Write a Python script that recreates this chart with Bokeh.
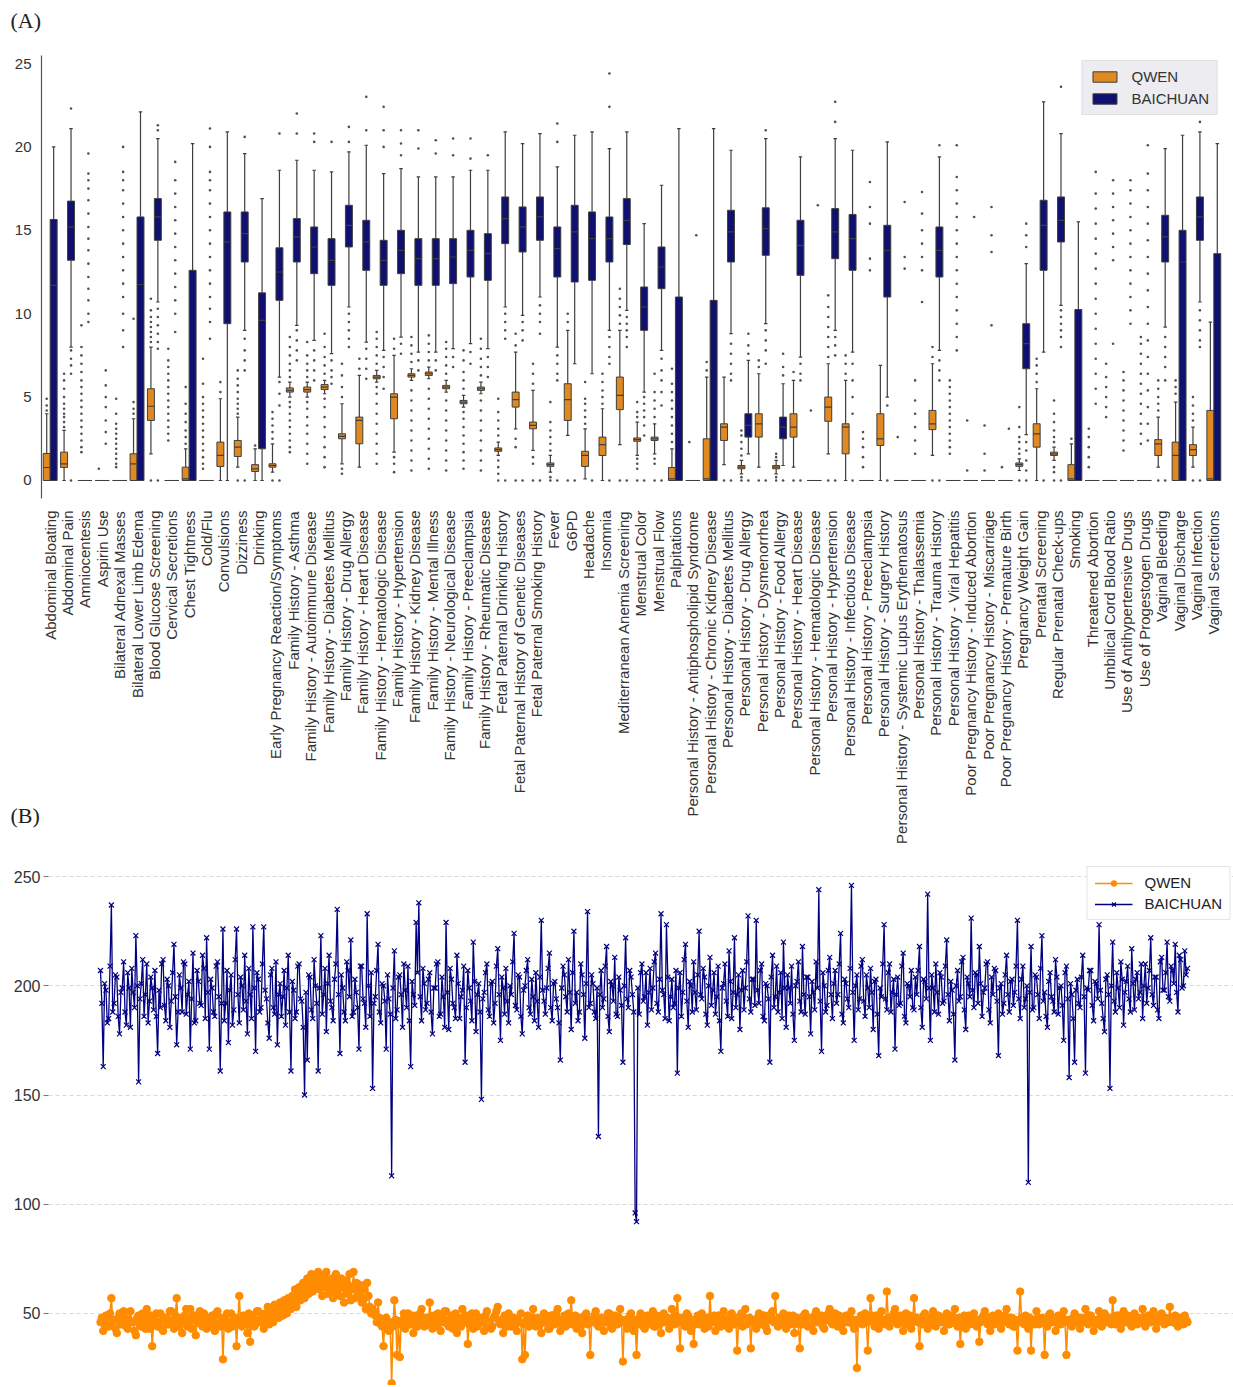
import math
from bokeh.plotting import figure
from bokeh.models import ColumnDataSource, FixedTicker, Legend, LegendItem, Range1d
from bokeh.layouts import column, row
from bokeh.embed import file_html
from bokeh.resources import INLINE

categories = [
    "Abdominal Bloating", "Abdominal Pain", "Amniocentesis", "Aspirin Use",
    "Bilateral Adnexal Masses", "Bilateral Lower Limb Edema", "Blood Glucose Screening",
    "Cervical Secretions", "Chest Tightness", "Cold/Flu", "Convulsions", "Dizziness",
    "Drinking", "Early Pregnancy Reaction/Symptoms", "Family History - Asthma",
    "Family History - Autoimmune Disease", "Family History - Diabetes Mellitus",
    "Family History - Drug Allergy", "Family History - Heart Disease",
    "Family History - Hematologic Disease", "Family History - Hypertension",
    "Family History - Kidney Disease", "Family History - Mental Illness",
    "Family History - Neurological Disease", "Family History - Preeclampsia",
    "Family History - Rheumatic Disease", "Fetal Paternal Drinking History",
    "Fetal Paternal History of Genetic Diseases", "Fetal Paternal Smoking History",
    "Fever", "G6PD", "Headache", "Insomnia", "Mediterranean Anemia Screening",
    "Menstrual Color", "Menstrual Flow", "Palpitations",
    "Personal History - Antiphospholipid Syndrome", "Personal History - Chronic Kidney Disease",
    "Personal History - Diabetes Mellitus", "Personal History - Drug Allergy",
    "Personal History - Dysmenorrhea", "Personal History - Food Allergy",
    "Personal History - Heart Disease", "Personal History - Hematologic Disease",
    "Personal History - Hypertension", "Personal History - Infectious Disease",
    "Personal History - Preeclampsia", "Personal History - Surgery History",
    "Personal History - Systemic Lupus Erythematosus", "Personal History - Thalassemia",
    "Personal History - Trauma History", "Personal History - Viral Hepatitis",
    "Poor Pregnancy History - Induced Abortion", "Poor Pregnancy History - Miscarriage",
    "Poor Pregnancy History - Premature Birth", "Pregnancy Weight Gain",
    "Prenatal Screening", "Regular Prenatal Check-ups", "Smoking", "Threatened Abortion",
    "Umbilical Cord Blood Ratio", "Use of Antihypertensive Drugs", "Use of Progestogen Drugs",
    "Vaginal Bleeding", "Vaginal Discharge", "Vaginal Infection", "Vaginal Secretions",
]

# ---- QWEN box statistics (panel A) ----
qwen_q1 = [0, 0.78, 0, 0, 0, 0, 3.6, 0, 0, 0, 0.84, 1.44, 0.54, 0.8, 5.3, 5.3, 5.45, 2.5, 2.2, 6.1,
           3.7, 6.2, 6.3, 5.5, 4.6, 5.4, 1.75, 4.4, 3.1, 0.85, 3.6, 0.84, 1.5, 4.25, 2.35, 2.4, 0, 0,
           0, 2.4, 0.7, 2.6, 0.7, 2.6, 0, 3.55, 1.6, 0, 2.1, 0, 0, 3.05, 0, 0, 0, 0, 0.85, 2.0, 1.5,
           0, 0, 0, 0, 0, 1.5, 0, 1.5, 0]
qwen_med = [0.78, 1.0, 0, 0, 0, 1.0, 4.45, 0, 0.1, 0, 1.5, 2.0, 0.7, 0.9, 5.4, 5.45, 5.6, 2.65, 3.6,
            6.2, 5.0, 6.3, 6.4, 5.6, 4.7, 5.5, 1.85, 4.85, 3.3, 0.95, 4.85, 1.5, 2.15, 5.1, 2.45,
            2.5, 0.1, 0, 0.1, 3.2, 0.8, 3.4, 0.8, 3.2, 0, 4.4, 3.2, 0, 2.5, 0, 0, 3.4, 0, 0, 0, 0,
            0.95, 2.8, 1.6, 0.1, 0, 0, 0, 0, 2.2, 1.5, 1.85, 0.1]
qwen_q3 = [1.62, 1.7, 0, 0, 0, 1.6, 5.5, 0, 0.8, 0, 2.3, 2.4, 0.95, 1.0, 5.55, 5.6, 5.75, 2.8, 3.8,
           6.3, 5.2, 6.4, 6.5, 5.7, 4.8, 5.6, 1.95, 5.3, 3.5, 1.05, 5.8, 1.75, 2.6, 6.2, 2.55, 2.6,
           0.78, 0, 2.5, 3.4, 0.9, 4.0, 0.9, 4.0, 0, 5.0, 3.4, 0, 4.0, 0, 0, 4.2, 0, 0, 0, 0, 1.05,
           3.4, 1.7, 0.95, 0, 0, 0, 0, 2.45, 2.3, 2.15, 4.2]
qwen_lo = [0, 0, 0, 0, 0, 0, 1.6, 0, 0, 0, 0, 0.8, 0, 0.5, 5.0, 5.0, 5.2, 1.0, 0.8, 5.9, 1.7, 6.0,
           6.1, 5.3, 4.4, 5.2, 1.5, 3.1, 1.8, 0.5, 2.7, 0.1, 0, 2.15, 1.5, 1.6, 0, 0, 0, 0.95, 0.4,
           0.8, 0.4, 0.8, 0, 1.6, 0, 0, 0, 0, 0, 1.5, 0, 0, 0, 0, 0.6, 0, 1.2, 0, 0, 0, 0, 0, 0.8,
           0, 0.8, 0]
qwen_hi = [4.0, 3.0, 0, 0, 0, 3.7, 8.0, 0, 1.9, 0, 4.9, 3.8, 1.9, 2.2, 5.9, 5.9, 6.0, 4.6, 6.3, 6.6,
           7.5, 6.7, 6.8, 6.0, 5.1, 5.9, 2.3, 7.7, 5.4, 1.5, 9.0, 3.1, 4.3, 9.0, 3.5, 3.4, 1.9, 0,
           6.2, 6.2, 1.2, 6.4, 1.2, 6.0, 0, 7.0, 6.0, 0, 6.9, 0, 0, 7.0, 0, 0, 0, 0, 1.3, 5.5, 2.0,
           2.2, 0, 0, 0, 0, 3.8, 4.7, 3.2, 9.5]
qwen_outliers = [
    [4.2, 4.5, 4.9], [3.2, 3.5, 3.8, 4.0, 4.3, 4.6, 5.0, 5.5, 6.0, 6.4],
    [1.7, 2.0, 2.4, 2.8, 3.2, 3.6, 4.0, 4.4, 4.8, 5.2, 5.6, 6.0, 6.5, 7.0, 7.5, 8.0, 9.3],
    [0.7], [0.8, 1.0, 1.3, 1.6, 1.9, 2.2, 2.5, 2.8, 3.1, 3.4, 4.0, 4.9], [4.0, 4.3, 4.7, 9.7],
    [8.3, 8.6, 8.9, 9.2, 9.5, 9.8, 10.2, 10.9, 0],
    [2.4, 2.8, 3.2, 3.6, 4.0, 4.4, 4.8, 5.2, 5.6, 6.0, 6.4, 6.8, 7.2, 7.9],
    [2.2, 2.6, 3.0, 3.5, 4.0, 4.6, 5.6],
    [0.7, 1.0, 1.4, 1.8, 2.2, 2.6, 3.0, 3.4, 3.8, 4.2, 4.6, 5.0, 5.8, 7.3],
    [5.3, 5.9], [4.0, 4.3, 4.6, 4.9, 5.3, 5.7, 6.1, 6.6, 0], [2.1], [2.5, 2.9, 3.3, 3.7, 4.1, 0],
    [1.7, 2.0, 2.4, 2.8, 3.2, 3.6, 4.0, 4.4, 4.7, 6.2, 6.6, 7.0, 7.5, 8.0, 8.6],
    [1.0, 1.6, 2.2, 2.8, 3.3, 3.8, 4.3, 4.7, 6.2, 6.6, 7.0, 7.5, 8.3],
    [0.8, 1.4, 2.0, 2.6, 3.2, 3.8, 4.4, 4.9, 6.4, 6.9, 7.4, 8.0, 8.8],
    [0.4, 0.7, 5.0, 5.6, 6.3, 7.0], [6.7, 7.3],
    [1.0, 1.6, 2.2, 2.8, 3.4, 4.0, 4.6, 5.2, 5.6, 7.0, 7.5, 8.0, 8.5, 8.9],
    [0.5, 1.0, 1.4, 7.9, 8.5],
    [0.6, 1.2, 1.8, 2.4, 3.0, 3.6, 4.2, 4.8, 5.4, 7.1, 7.6, 8.1, 8.6],
    [0.7, 1.3, 1.9, 2.5, 3.1, 3.7, 4.3, 4.9, 5.5, 7.2, 7.7, 8.2, 8.7],
    [0.6, 1.2, 1.8, 2.4, 3.0, 3.6, 4.2, 4.8, 6.4, 6.9, 7.4, 7.9, 8.3],
    [0.7, 1.2, 1.7, 2.2, 2.7, 3.2, 3.7, 4.1, 5.5, 6.0, 6.5, 7.2, 7.8],
    [0.6, 1.2, 1.8, 2.4, 3.0, 3.6, 4.2, 4.8, 6.3, 6.8, 7.3, 7.9, 8.5],
    [0, 0.4, 0.8, 1.2, 2.7, 3.1, 3.6, 4.1, 4.9], [0, 2.0, 2.5, 8.1, 8.8], [0, 1.0, 1.4, 5.8, 6.4, 7.0],
    [0, 0.2, 1.8, 2.2, 2.6, 3.0, 3.5, 4.7], [0, 9.5, 10.0], [3.4, 3.8, 4.2, 4.6, 4.9, 5.9],
    [4.6, 5.0, 5.4, 5.9, 6.4], [0, 9.4, 9.9, 10.4, 10.9, 11.5], [0, 0.7, 1.0, 1.3, 3.8, 4.1, 4.7],
    [0, 1.0, 1.3, 3.8, 4.3, 4.8, 5.3, 6.4], [2.3, 2.8, 3.3, 3.8, 4.3, 4.8, 5.3, 5.8, 6.7], [2.3],
    [6.6, 7.1], [0], [0, 0.2, 1.5, 1.9, 2.3, 2.7, 3.0], [0, 6.8, 7.2], [0, 0.2, 1.4, 1.6], [0, 6.5],
    [4.2], [0, 7.4, 8.0, 8.6, 9.2, 9.8, 10.4, 11.1], [6.4, 7.0, 7.5], [0.8, 1.4, 2.0, 2.5, 2.9], [],
    [2.6], [1.6, 2.4, 3.2, 4.0, 4.8, 6.0], [0, 7.4, 8.0],
    [1.6, 2.0, 2.4, 2.8, 3.2, 3.6, 4.0, 4.4, 4.8, 5.2, 5.6, 6.0], [0.6, 3.6], [0.6, 1.6, 3.3], [0.8],
    [0, 1.6, 1.9, 2.3, 2.6, 3.2, 4.4], [5.9, 6.4, 6.9, 7.3], [0, 0.5, 0.8, 2.3, 2.6, 3.0, 3.5, 4.0, 4.8],
    [2.5], [0.8, 1.4, 2.0, 2.6, 3.1], [3.8, 4.4, 5.0, 5.6, 6.2, 7.0],
    [1.8, 2.4, 3.0, 3.6, 4.2, 4.8, 5.4, 6.0, 6.5],
    [2.2, 2.8, 3.4, 4.0, 4.6, 5.2, 5.8, 6.4, 7.0, 7.6, 8.2, 8.6], [0, 4.2, 4.6, 5.0, 5.5, 6.0],
    [5.2, 5.6, 6.0], [0, 3.6, 4.0, 4.5, 5.0], [],
]

# ---- BAICHUAN box statistics (panel A) ----
bc_q1 = [0, 13.2, 0, 0, 0, 0, 14.4, 0, 0, 0, 9.4, 13.1, 1.9, 10.8, 13.1, 12.4, 11.7, 14.0, 12.6,
         11.7, 12.4, 11.7, 11.7, 11.8, 12.2, 12.0, 14.2, 13.7, 14.4, 12.2, 11.9, 12.0, 13.1, 14.15,
         9.0, 11.5, 0, 0, 0, 13.1, 2.6, 13.5, 2.5, 12.3, 0, 13.3, 12.6, 0, 11.0, 0, 0, 12.2, 0, 0,
         0, 0, 6.7, 12.6, 14.3, 0, 0, 0, 0, 0, 13.1, 0, 14.4, 0]
bc_med = [11.7, 15.2, 0, 0, 0, 11.75, 15.8, 0, 0, 0, 14.3, 14.8, 9.6, 12.5, 14.6, 14.0, 13.2, 15.3,
          14.3, 13.2, 13.8, 13.3, 13.3, 13.4, 13.8, 13.6, 15.7, 15.2, 15.8, 13.9, 14.9, 14.5, 14.5,
          15.6, 10.4, 12.8, 0, 0, 0, 14.9, 3.3, 15.1, 3.2, 14.1, 0, 14.9, 14.5, 0, 13.8, 0, 0, 13.8,
          0, 0, 0, 0, 8.2, 15.3, 15.6, 0, 0, 0, 0, 0, 14.6, 13.1, 15.8, 0]
bc_q3 = [15.65, 16.75, 0, 0, 0, 15.8, 16.9, 0, 12.6, 0, 16.1, 16.1, 11.25, 13.95, 15.7, 15.2, 14.5,
         16.5, 15.6, 14.4, 15.0, 14.5, 14.5, 14.5, 15.0, 14.8, 17.0, 16.4, 17.0, 15.2, 16.5, 16.1,
         15.8, 16.9, 11.6, 14.0, 11.0, 0, 10.8, 16.2, 4.0, 16.35, 3.8, 15.6, 0, 16.3, 15.95, 0, 15.3,
         0, 0, 15.2, 0, 0, 0, 0, 9.4, 16.8, 17.0, 10.25, 0, 0, 0, 0, 15.9, 15.0, 17.0, 13.6]
bc_lo = [0, 8.0, 0, 0, 0, 0, 10.7, 0, 0, 0, 0, 9.0, 0, 6.2, 9.3, 8.4, 7.6, 10.4, 8.3, 7.8, 8.6, 7.7,
         7.7, 7.9, 8.2, 7.9, 10.4, 9.9, 11.0, 8.0, 7.0, 6.4, 9.0, 10.2, 5.3, 7.8, 0, 0, 0, 8.8, 1.6,
         9.4, 0.9, 7.4, 0, 9.0, 7.7, 0, 5.0, 0, 0, 7.8, 0, 0, 0, 0, 2.75, 7.7, 10.5, 0, 0, 0, 0, 0,
         9.2, 0, 10.7, 0]
bc_hi = [20.0, 21.1, 0, 0, 0, 22.1, 20.5, 0, 20.2, 0, 20.9, 19.6, 16.9, 18.6, 19.2, 18.6, 18.5, 19.7,
         20.1, 18.4, 18.7, 18.2, 18.2, 18.2, 18.6, 18.6, 20.9, 20.2, 20.8, 18.8, 20.7, 20.9, 19.9,
         20.9, 15.4, 17.7, 21.1, 0, 21.1, 19.8, 7.2, 20.5, 5.8, 19.4, 0, 20.5, 19.8, 0, 20.3, 0, 0,
         19.4, 0, 0, 0, 0, 13.0, 22.7, 20.8, 15.5, 0, 0, 0, 0, 19.9, 20.7, 20.9, 20.2]
bc_outliers = [
    [], [0, 6.4, 6.9, 7.3, 7.8, 22.3],
    [9.5, 10.0, 10.8, 11.5, 12.2, 13.0, 13.8, 14.5, 15.2, 16.0, 16.8, 17.5, 18.0, 18.4, 19.6],
    [2.2, 2.9, 3.6, 4.4, 5.0, 5.7, 6.6],
    [8.0, 9.0, 10.0, 11.0, 11.8, 12.6, 13.4, 14.2, 15.0, 15.8, 16.6, 17.4, 18.0, 18.5, 20.0], [],
    [0, 7.9, 8.3, 8.8, 9.3, 9.8, 10.3, 21.0, 21.3],
    [8.9, 10.0, 10.8, 11.6, 12.4, 13.2, 14.0, 14.8, 15.6, 16.4, 17.2, 18.0, 19.1], [],
    [8.5, 9.5, 10.3, 11.0, 11.8, 12.6, 13.4, 14.2, 15.0, 15.8, 16.6, 17.4, 18.0, 18.5, 20.0, 21.1],
    [], [0, 6.6, 7.2, 7.8, 8.5, 20.6], [], [0, 4.5, 5.2, 5.9, 20.8], [7.2, 7.8, 8.4, 9.0, 20.8, 22.0],
    [6.0, 6.6, 7.2, 7.8, 20.3, 20.8], [5.8, 6.2, 6.6, 7.2, 20.3], [8.0, 8.5, 9.0, 9.5, 10.0, 20.3, 21.2],
    [6.1, 6.7, 7.3, 7.9, 21.0, 23.0], [5.5, 6.2, 6.8, 7.4, 20.0, 21.0, 22.4], [7.6, 8.2, 19.5, 20.2, 21.0],
    [6.6, 7.2, 19.9, 21.0], [6.6, 7.2, 19.6, 20.4], [6.8, 7.4, 19.5, 20.5], [7.0, 7.7, 19.3, 20.5],
    [6.2, 6.8, 7.4, 19.5], [0, 8.5, 9.0, 9.5, 10.0], [0, 8.4, 9.0, 9.5], [0, 8.8, 9.5, 10.0, 10.5],
    [0, 6.0, 6.4, 7.0, 7.5, 20.3, 21.4], [0], [0], [0, 7.0, 7.4, 8.0, 8.6, 22.4, 24.4],
    [0, 8.0, 8.6, 9.0, 9.4, 9.8], [0, 2.7, 3.3, 3.8, 4.2, 4.6, 5.0], [0, 4.5, 5.3, 6.0, 6.6, 7.3], [],
    [14.7], [], [0, 6.0, 6.4, 7.0, 7.6, 8.2], [0, 7.6, 8.1, 8.8], [0, 7.0, 7.8, 8.4, 9.0, 21.0],
    [0, 6.3, 6.8, 7.6], [0, 6.0, 6.4, 7.0], [16.5], [0, 7.5, 8.1, 8.6, 21.5, 22.7], [0, 4.0, 5.0, 6.0, 7.0],
    [12.6, 13.3, 15.4, 16.4, 17.9], [0, 4.5], [12.7, 13.4, 16.7], [10.7, 12.6, 13.4, 14.2, 15.0, 16.0, 17.3],
    [0, 6.0, 6.6, 7.2, 20.1],
    [7.8, 8.6, 9.4, 10.2, 11.0, 11.8, 12.6, 13.4, 14.2, 15.0, 15.8, 16.6, 17.4, 18.2, 20.1], [15.8],
    [9.3, 13.7, 14.7, 16.4], [3.1], [0, 0.6, 1.2, 1.8, 2.3, 14.0, 14.7, 15.4], [0],
    [0, 8.0, 8.6, 9.0, 9.4, 9.8, 10.2, 23.6], [],
    [4.6, 5.5, 6.4, 7.3, 8.2, 9.1, 10.0, 10.9, 11.8, 12.7, 13.6, 14.5, 15.4, 16.3, 17.2, 18.5],
    [8.2, 13.2, 14.0, 14.8, 15.6, 16.4, 17.2, 18.0],
    [9.4, 10.2, 11.0, 11.8, 12.6, 13.4, 14.2, 15.0, 15.8, 16.6, 17.4, 18.0],
    [2.4, 3.4, 4.4, 5.4, 6.4, 7.4, 8.4, 9.4, 10.4, 11.4, 12.4, 13.4, 14.4, 15.4, 16.4, 17.4, 18.4, 20.1],
    [0, 6.0, 6.8, 7.4, 8.0, 8.6], [], [0, 8.0, 8.4, 9.0, 9.6, 10.2, 21.5], [],
]

# ---- panel B series ----
qwen_series = [
    46, 48, 42, 45, 49, 47, 44, 50, 57, 46, 47, 43, 41, 48, 50, 45, 45, 51, 48, 44, 43, 47, 51, 46, 46, 42, 40, 48, 49, 45, 44, 50, 47, 43, 52, 46, 43, 49, 35, 45,
    47, 50, 44, 46, 50, 43, 42, 48, 48, 45, 45, 51, 51, 47, 43, 49, 57, 44, 46, 48, 41, 46, 49, 52, 44, 47, 52, 43, 47, 49, 40, 46, 48, 51, 45, 44, 50, 47, 43, 48,
    46, 44, 49, 47, 42, 50, 51, 45, 44, 48, 29, 46, 47, 50, 43, 46, 50, 44, 45, 48, 35, 47, 58, 45, 44, 49, 48, 46, 41, 50, 37, 47, 49, 44, 45, 51, 51, 47, 46, 49,
    43, 50, 47, 53, 45, 51, 49, 46, 54, 50, 52, 48, 55, 51, 49, 56, 53, 50, 57, 54, 52, 58, 55, 61, 53, 59, 62, 56, 60, 64, 57, 62, 66, 59, 63, 68, 60, 65, 62, 67,
    69, 61, 64, 58, 67, 62, 69, 59, 65, 61, 66, 57, 63, 68, 60, 64, 58, 66, 62, 55, 65, 59, 63, 68, 56, 61, 69, 57, 64, 60, 58, 63, 55, 61, 57, 52, 64, 58, 53, 50,
    52, 50, 49, 46, 55, 48, 45, 44, 35, 47, 48, 43, 42, 46, 18, 44, 56, 47, 31, 45, 30, 46, 47, 50, 43, 48, 50, 45, 45, 49, 41, 47, 49, 44, 46, 50, 52, 47, 44, 48,
    48, 45, 55, 47, 43, 49, 47, 44, 50, 46, 42, 48, 46, 51, 51, 45, 44, 47, 49, 43, 45, 50, 41, 46, 48, 44, 52, 47, 46, 49, 36, 45, 47, 50, 43, 46, 50, 44, 45, 48,
    48, 46, 42, 49, 51, 45, 46, 43, 44, 48, 49, 51, 53, 46, 45, 47, 41, 49, 47, 44, 50, 46, 44, 48, 48, 45, 42, 47, 46, 50, 29, 45, 31, 47, 49, 44, 45, 48, 52, 46,
    44, 48, 47, 45, 41, 46, 50, 47, 46, 43, 43, 49, 49, 46, 45, 50, 52, 47, 42, 45, 47, 49, 44, 46, 50, 48, 56, 45, 46, 49, 43, 47, 48, 44, 41, 46, 49, 50, 45, 47,
    31, 46, 47, 49, 51, 45, 44, 48, 48, 46, 42, 47, 46, 50, 50, 44, 43, 47, 49, 45, 45, 48, 52, 46, 28, 47, 47, 43, 44, 49, 50, 46, 42, 47, 31, 45, 48, 50, 46, 44,
    43, 47, 49, 46, 45, 48, 51, 44, 44, 49, 47, 45, 41, 47, 50, 46, 46, 48, 43, 45, 52, 47, 45, 49, 57, 46, 34, 47, 48, 45, 44, 50, 49, 46, 42, 47, 36, 45, 47, 49,
    45, 48, 50, 46, 43, 47, 48, 44, 58, 46, 46, 49, 42, 47, 49, 45, 44, 48, 51, 46, 47, 44, 43, 49, 50, 46, 45, 48, 33, 46, 48, 50, 44, 47, 52, 45, 46, 48, 34, 47,
    47, 45, 43, 48, 50, 46, 45, 49, 49, 44, 42, 47, 48, 50, 51, 46, 58, 47, 44, 48, 47, 45, 50, 46, 43, 48, 49, 45, 46, 49, 41, 47, 48, 45, 34, 46, 45, 49, 50, 47,
    44, 47, 48, 45, 42, 49, 51, 46, 46, 48, 49, 44, 43, 47, 47, 50, 52, 46, 45, 48, 50, 47, 44, 49, 48, 45, 42, 47, 49, 46, 46, 48, 51, 45, 43, 47, 25, 46, 47, 49,
    45, 48, 50, 46, 33, 47, 57, 49, 46, 44, 49, 47, 43, 48, 51, 46, 47, 45, 60, 48, 44, 46, 48, 50, 52, 47, 45, 48, 49, 46, 42, 47, 50, 45, 46, 49, 43, 46, 57, 48,
    48, 46, 35, 47, 45, 49, 50, 46, 43, 48, 47, 45, 51, 47, 44, 49, 49, 46, 46, 48, 42, 47, 50, 45, 45, 49, 48, 46, 52, 47, 44, 48, 36, 46, 47, 49, 43, 47, 49, 45,
    46, 48, 50, 45, 44, 47, 37, 46, 48, 49, 51, 47, 45, 48, 42, 46, 49, 45, 46, 48, 50, 47, 43, 46, 47, 49, 52, 46, 45, 48, 48, 44, 44, 47, 33, 46, 60, 48, 46, 45,
    49, 46, 43, 48, 33, 47, 47, 45, 51, 48, 45, 47, 48, 46, 31, 47, 44, 49, 50, 46, 46, 48, 42, 47, 49, 45, 45, 48, 51, 46, 31, 47, 47, 45, 44, 48, 50, 46, 46, 48,
    43, 47, 48, 46, 52, 47, 45, 49, 49, 46, 42, 47, 47, 45, 51, 48, 44, 47, 50, 46, 46, 48, 48, 45, 56, 47, 45, 49, 49, 46, 43, 48, 51, 46, 46, 49, 48, 45, 44, 47,
    50, 47, 45, 48, 47, 46, 52, 48, 44, 47, 49, 46, 46, 48, 51, 47, 43, 46, 48, 49, 50, 47, 45, 48, 47, 46, 53, 48, 46, 47, 49, 45, 44, 48, 48, 46, 45, 49, 47, 46,
]
baichuan_series = [
    207, 192, 163, 201, 198, 183, 185, 209, 237, 188, 192, 205, 204, 186, 178, 197, 199, 211, 188, 182, 206, 199, 181, 208, 197, 190, 223, 200, 156, 194, 201, 212, 186, 196, 210, 183, 193, 204, 199, 189,
    207, 186, 169, 198, 190, 210, 212, 191, 184, 203, 200, 181, 193, 206, 219, 195, 173, 188, 205, 199, 188, 211, 210, 187, 196, 202, 171, 194, 215, 183, 184, 207, 202, 192, 191, 214, 208, 185, 222, 197,
    171, 203, 199, 188, 186, 209, 211, 195, 161, 192, 226, 184, 192, 207, 174, 198, 205, 182, 189, 212, 226, 196, 183, 204, 200, 189, 214, 193, 178, 208, 196, 185, 227, 199, 170, 206, 203, 188, 190, 210,
    227, 198, 194, 183, 176, 205, 208, 190, 187, 211, 173, 196, 201, 186, 195, 207, 182, 199, 214, 188, 161, 202, 198, 185, 188, 209, 210, 194, 193, 181, 150, 197, 166, 205, 204, 189, 185, 212, 200, 192,
    161, 199, 223, 187, 196, 208, 179, 201, 214, 193, 190, 184, 203, 210, 235, 196, 169, 205, 199, 188, 184, 211, 207, 195, 221, 186, 188, 203, 197, 190, 171, 209, 209, 194, 192, 181, 233, 200, 186, 206,
    153, 192, 195, 207, 219, 188, 183, 201, 200, 193, 171, 205, 194, 187, 113, 199, 216, 185, 189, 204, 205, 196, 181, 210, 198, 190, 209, 184, 163, 202, 196, 191, 229, 206, 238, 195, 184, 208, 201, 189,
    192, 203, 206, 188, 178, 199, 199, 210, 211, 186, 187, 204, 195, 181, 229, 197, 180, 208, 203, 192, 190, 185, 214, 201, 185, 195, 198, 209, 165, 190, 207, 199, 193, 184, 220, 202, 179, 196, 201, 188,
    148, 194, 197, 206, 210, 189, 186, 201, 202, 183, 192, 209, 217, 196, 175, 204, 199, 187, 208, 193, 183, 200, 196, 211, 224, 191, 189, 205, 204, 186, 178, 198, 200, 207, 212, 190, 187, 203, 195, 184,
    206, 193, 181, 204, 230, 198, 193, 187, 199, 208, 215, 190, 184, 201, 202, 194, 190, 183, 166, 199, 209, 205, 195, 188, 212, 197, 180, 206, 225, 192, 197, 184, 188, 210, 205, 196, 176, 201, 234, 190,
    192, 205, 201, 188, 185, 199, 131, 196, 207, 190, 194, 209, 218, 186, 179, 202, 200, 193, 213, 187, 186, 204, 198, 191, 165, 200, 222, 194, 190, 207, 204, 196, 188, 96, 92, 199, 187, 206, 210, 193,
    195, 206, 182, 197, 208, 189, 199, 211, 215, 192, 188, 203, 233, 198, 196, 185, 228, 204, 184, 195, 203, 190, 192, 207, 160, 199, 206, 186, 197, 212, 219, 193, 181, 202, 200, 188, 211, 197, 189, 205,
    225, 196, 194, 208, 204, 187, 182, 200, 213, 191, 198, 206, 187, 195, 209, 184, 170, 199, 201, 210, 193, 186, 216, 202, 185, 197, 222, 190, 196, 205, 180, 198, 207, 189, 199, 211, 232, 194, 188, 203,
    203, 191, 230, 198, 192, 207, 210, 186, 184, 201, 200, 194, 165, 204, 214, 190, 195, 209, 188, 197, 206, 185, 220, 199, 181, 205, 199, 192, 209, 187, 175, 200, 202, 211, 193, 188, 218, 196, 187, 204,
    204, 195, 178, 202, 197, 189, 211, 199, 244, 193, 170, 206, 200, 188, 191, 207, 213, 196, 185, 201, 207, 192, 196, 210, 224, 187, 183, 203, 201, 194, 190, 208, 246, 197, 175, 200, 205, 189, 194, 209,
    212, 193, 186, 205, 199, 190, 208, 197, 180, 202, 203, 187, 168, 199, 195, 210, 228, 194, 189, 206, 210, 188, 197, 203, 171, 196, 204, 191, 192, 209, 215, 186, 183, 201, 200, 195, 207, 190, 189, 204,
    196, 207, 218, 190, 181, 203, 202, 194, 242, 199, 175, 205, 199, 188, 210, 197, 187, 206, 204, 192, 193, 209, 221, 196, 184, 202, 198, 187, 166, 200, 207, 193, 195, 211, 213, 189, 180, 204, 201, 195,
    231, 198, 190, 206, 205, 192, 218, 201, 186, 197, 199, 210, 211, 189, 183, 204, 196, 208, 207, 193, 168, 199, 201, 187, 192, 205, 214, 196, 188, 202, 203, 191, 197, 209, 230, 194, 185, 203, 209, 190,
    194, 200, 110, 197, 218, 189, 190, 205, 204, 196, 185, 208, 223, 193, 197, 186, 181, 202, 206, 195, 193, 188, 212, 204, 187, 199, 200, 191, 175, 206, 209, 194, 158, 201, 196, 185, 165, 198, 203, 192,
    190, 204, 214, 195, 160, 199, 198, 207, 207, 191, 184, 202, 201, 194, 228, 198, 192, 185, 179, 203, 205, 196, 153, 200, 220, 193, 188, 206, 199, 190, 211, 203, 182, 197, 202, 209, 194, 188, 217, 201,
    189, 203, 206, 194, 197, 210, 185, 200, 210, 192, 199, 207, 222, 196, 191, 204, 204, 189, 185, 211, 213, 198, 198, 206, 220, 195, 193, 209, 207, 201, 219, 197, 188, 214, 212, 199, 200, 216, 205, 208,
]
a_yticks = [0, 5, 10, 15, 20, 25]
b_yticks = [50, 100, 150, 200, 250]

# ---------------- styling ----------------
FONT = "Liberation Sans"
SERIF = "Liberation Serif"
EDGE = "#3f3f3f"
Q_BOX = "#DF8920"
B_BOX = "#101070"
Q_LINE = "#FF8C00"
B_LINE = "#000080"

n = len(categories)
pa = figure(width=1233, height=878, x_range=Range1d(-0.5, n - 0.5), y_range=Range1d(-1.08, 25.48),
            output_backend="svg", toolbar_location=None,
            min_border_left=41, min_border_right=11, min_border_top=75, min_border_bottom=360)
pa.xgrid.visible = False
pa.ygrid.visible = False
pa.outline_line_color = None
pa.title.text = "(A)"
pa.title.align = "left"
pa.title.vertical_align = "bottom"
pa.title.offset = -31
pa.title.standoff = 46
pa.title.text_font = SERIF
pa.title.text_font_size = "22px"
pa.title.text_font_style = "normal"
pa.title.text_color = "#222222"


def draw_boxes(p, offset, q1, med, q3, lo, hi, outs, color):
    xs = [i + offset for i in range(len(q1))]
    src = ColumnDataSource(dict(
        x=xs, q1=q1, med=med, q3=q3, lo=lo, hi=hi,
        left=[x - 0.2 for x in xs], right=[x + 0.2 for x in xs],
        cl=[x - 0.1 for x in xs], cr=[x + 0.1 for x in xs]))
    p.segment(x0="x", y0="lo", x1="x", y1="q1", source=src, line_color=EDGE, line_width=1.2)
    p.segment(x0="x", y0="q3", x1="x", y1="hi", source=src, line_color=EDGE, line_width=1.2)
    r = p.quad(left="left", right="right", bottom="q1", top="q3", source=src,
               fill_color=color, line_color=EDGE, line_width=1)
    p.segment(x0="left", y0="med", x1="right", y1="med", source=src, line_color=EDGE, line_width=1.2)
    p.segment(x0="cl", y0="lo", x1="cr", y1="lo", source=src, line_color=EDGE, line_width=1.2)
    p.segment(x0="cl", y0="hi", x1="cr", y1="hi", source=src, line_color=EDGE, line_width=1.2)
    ox, oy = [], []
    for i, lst in enumerate(outs):
        for v in lst:
            ox.append(i + offset)
            oy.append(v)
    p.scatter(ox, oy, marker="circle", size=2.6, fill_color="#333333", line_color=None, fill_alpha=0.85)
    return r


rq = draw_boxes(pa, -0.2, qwen_q1, qwen_med, qwen_q3, qwen_lo, qwen_hi, qwen_outliers, Q_BOX)
rb = draw_boxes(pa, 0.2, bc_q1, bc_med, bc_q3, bc_lo, bc_hi, bc_outliers, B_BOX)

pa.xaxis.ticker = FixedTicker(ticks=list(range(n)))
pa.xaxis.major_label_overrides = {i: c for i, c in enumerate(categories)}
pa.xaxis.major_label_orientation = math.pi / 2
pa.xaxis.axis_line_color = None
pa.xaxis.major_tick_line_color = None
pa.xaxis.major_tick_out = 0
pa.xaxis.major_tick_in = 0
pa.xaxis.minor_tick_line_color = None
pa.xaxis.major_label_standoff = 12
pa.xaxis.major_label_text_font = FONT
pa.xaxis.major_label_text_font_size = "15px"
pa.xaxis.major_label_text_color = "#333333"

pa.yaxis.ticker = FixedTicker(ticks=a_yticks)
pa.yaxis.axis_line_color = "#555555"
pa.yaxis.axis_line_width = 1.2
pa.yaxis.major_tick_line_color = None
pa.yaxis.major_tick_out = 0
pa.yaxis.major_tick_in = 0
pa.yaxis.minor_tick_line_color = None
pa.yaxis.major_label_standoff = 10
pa.yaxis.major_label_text_font = FONT
pa.yaxis.major_label_text_font_size = "15px"
pa.yaxis.major_label_text_color = "#333333"

legA = Legend(items=[LegendItem(label="QWEN", renderers=[rq]),
                     LegendItem(label="BAICHUAN", renderers=[rb])],
              location="top_right", margin=5, padding=7, spacing=5,
              glyph_width=30, glyph_height=13, label_standoff=12,
              label_text_font=FONT, label_text_font_size="15px", label_text_color="#333333",
              background_fill_color="#ECECF1", background_fill_alpha=1.0,
              border_line_color="#D4D4DC", border_line_width=1)
pa.add_layout(legA)

# ---------------- panel B ----------------
N = len(baichuan_series)
ppi = 1087.0 / (N - 1)
pb = figure(width=1233, height=617,
            x_range=Range1d(-(52.0 / ppi), (N - 1) + 46.0 / ppi),
            y_range=Range1d(17, 256), x_axis_location=None,
            output_backend="svg", toolbar_location=None,
            min_border_left=48, min_border_right=0, min_border_top=94, min_border_bottom=0)
pb.border_fill_alpha = 0
pb.background_fill_alpha = 0
pb.outline_line_color = None
pb.title.text = "(B)"
pb.title.align = "left"
pb.title.vertical_align = "top"
pb.title.offset = -38
pb.title.standoff = 68
pb.title.text_font = SERIF
pb.title.text_font_size = "22px"
pb.title.text_font_style = "normal"
pb.title.text_color = "#222222"
pb.xgrid.visible = False
pb.ygrid.grid_line_color = "#d8d8d8"
pb.ygrid.grid_line_dash = "4 3"
pb.ygrid.grid_line_width = 1
pb.yaxis.ticker = FixedTicker(ticks=b_yticks)
pb.yaxis.axis_line_color = None
pb.yaxis.major_tick_line_color = "#777777"
pb.yaxis.major_tick_out = 5
pb.yaxis.major_tick_in = 0
pb.yaxis.minor_tick_line_color = None
pb.yaxis.major_label_standoff = 3
pb.yaxis.major_label_text_font = FONT
pb.yaxis.major_label_text_font_size = "16px"
pb.yaxis.major_label_text_color = "#333333"

xq = list(range(len(qwen_series)))
xb = list(range(N))
lq = pb.line(xq, qwen_series, line_color=Q_LINE, line_width=1.6)
sq = pb.scatter(xq, qwen_series, marker="circle", size=7.5, fill_color=Q_LINE, line_color=Q_LINE)
lb = pb.line(xb, baichuan_series, line_color=B_LINE, line_width=1.3)
sb = pb.scatter(xb, baichuan_series, marker="x", size=7, line_color=B_LINE, line_width=1.2)

legB = Legend(items=[LegendItem(label="QWEN", renderers=[lq, sq]),
                     LegendItem(label="BAICHUAN", renderers=[lb, sb])],
              location="top_right", margin=3, padding=7, spacing=4,
              glyph_width=38, glyph_height=14, label_standoff=12,
              label_text_font=FONT, label_text_font_size="15px", label_text_color="#222222",
              background_fill_color="white", background_fill_alpha=1.0,
              border_line_color="#cccccc", border_line_width=1)
pb.add_layout(legB)

top_box = row(pa)
top_box.margin = (-20, 0, 0, 0)
bottom_box = row(pb)
bottom_box.margin = (-90, 0, 0, 0)
layout = column(top_box, bottom_box)
open("out.html", "w").write(file_html(layout, INLINE))
